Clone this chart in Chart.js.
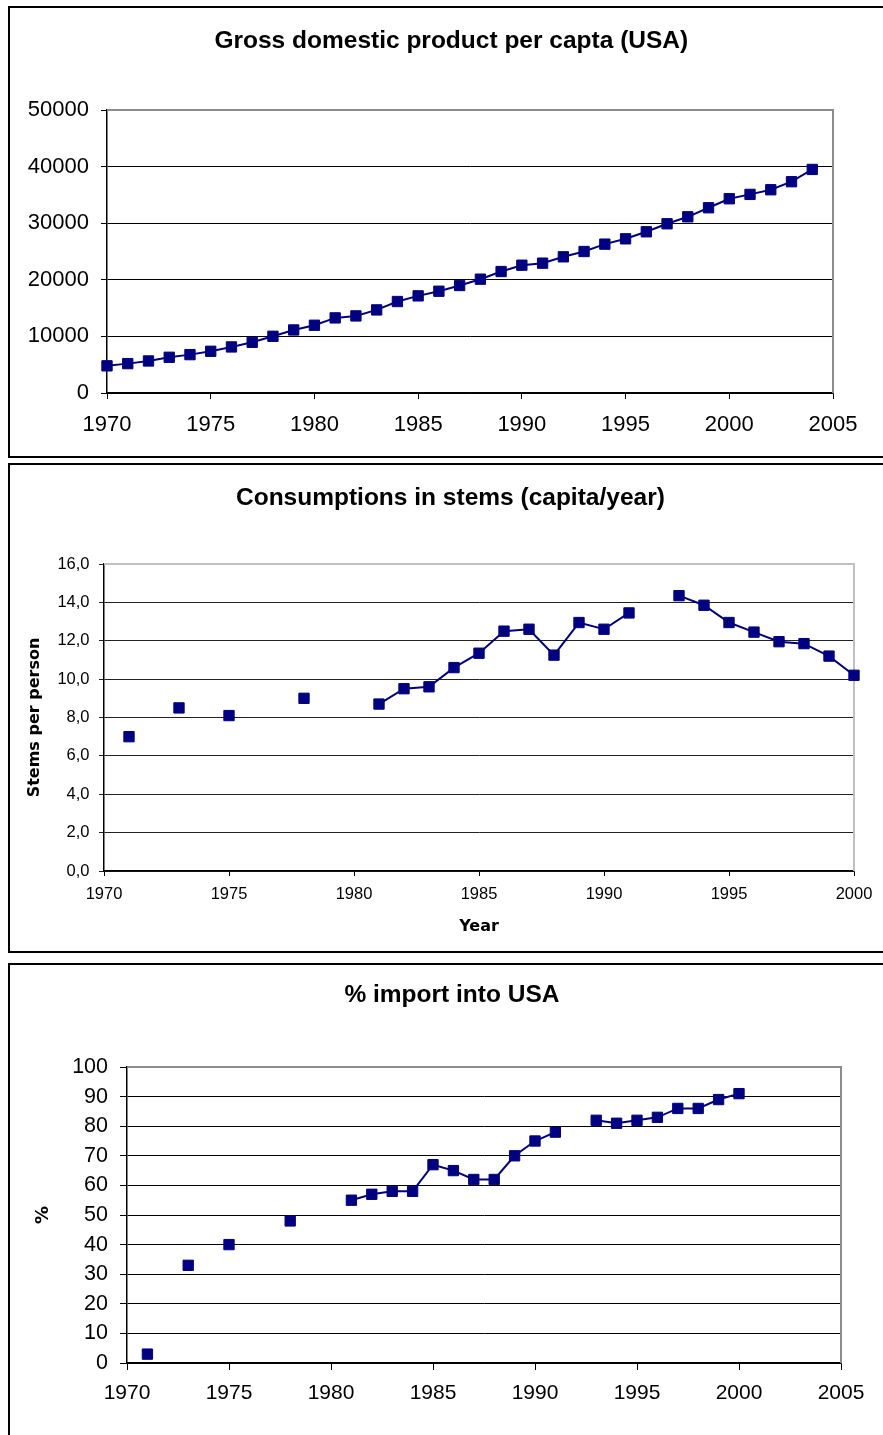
<!DOCTYPE html>
<html>
<head>
<meta charset="utf-8">
<title>USA: GDP, stems consumption, import</title>
<script src="https://cdn.jsdelivr.net/npm/chart.js@4/dist/chart.umd.min.js"></script>
<style>
    html, body { margin: 0; padding: 0; background: #fff; }
    body { position: relative; width: 883px; height: 1435px; overflow: hidden; }
    canvas { position: absolute; left: 0; }
    .box { position: absolute; border: 2px solid #000; box-sizing: border-box; pointer-events: none; }
</style>
</head>
<body>
<canvas id="gdpChart" width="883" height="460" style="top:0"></canvas>
<canvas id="stemsChart" width="883" height="495" style="top:460px"></canvas>
<canvas id="importChart" width="883" height="480" style="top:955px"></canvas>
<div class="box" style="left:8px;top:6px;width:900px;height:452px"></div>
<div class="box" style="left:8px;top:463px;width:900px;height:490px"></div>
<div class="box" style="left:8px;top:963px;width:900px;height:500px"></div>

<script>
// Data

const gdpYears = [1970, 1971, 1972, 1973, 1974, 1975, 1976, 1977, 1978, 1979,
                  1980, 1981, 1982, 1983, 1984, 1985, 1986, 1987, 1988, 1989,
                  1990, 1991, 1992, 1993, 1994, 1995, 1996, 1997, 1998, 1999,
                  2000, 2001, 2002, 2003, 2004];
const gdpValues = [4800, 5190, 5660, 6310, 6780, 7370, 8140, 8960, 10020, 11140,
                   11970, 13270, 13620, 14680, 16160, 17160, 17980, 18990, 20110, 21460,
                   22580, 22940, 24060, 25000, 26300, 27240, 28480, 29900, 31130, 32730,
                   34320, 35090, 35910, 37330, 39500];
const gdpXTicks = [1970, 1975, 1980, 1985, 1990, 1995, 2000, 2005];
const gdpYTicks = [0, 10000, 20000, 30000, 40000, 50000];

const stemsYears = [1971, 1972, 1973, 1974, 1975, 1976, 1977, 1978, 1979, 1980,
                    1981, 1982, 1983, 1984, 1985, 1986, 1987, 1988, 1989, 1990,
                    1991, 1992, 1993, 1994, 1995, 1996, 1997, 1998, 1999, 2000];
const stemsValues = [7.0, null, 8.5, null, 8.1, null, null, 9.0, null, null,
                     8.7, 9.5, 9.6, 10.6, 11.35, 12.5, 12.6, 11.25, 12.95, 12.6,
                     13.45, null, 14.35, 13.85, 12.95, 12.45, 11.95, 11.85, 11.2, 10.2];
const stemsXTicks = [1970, 1975, 1980, 1985, 1990, 1995, 2000];
const stemsYTicks = [0, 2, 4, 6, 8, 10, 12, 14, 16];

const importYears = [1971, 1972, 1973, 1974, 1975, 1976, 1977, 1978, 1979, 1980,
                     1981, 1982, 1983, 1984, 1985, 1986, 1987, 1988, 1989, 1990,
                     1991, 1992, 1993, 1994, 1995, 1996, 1997, 1998, 1999, 2000];
const importValues = [3, null, 33, null, 40, null, null, 48, null, null,
                      55, 57, 58, 58, 67, 65, 62, 62, 70, 75,
                      78, null, 82, 81, 82, 83, 86, 86, 89, 91];
const importXTicks = [1970, 1975, 1980, 1985, 1990, 1995, 2000, 2005];
const importYTicks = [0, 10, 20, 30, 40, 50, 60, 70, 80, 90, 100];

const NAVY = '#000080';
const ARIAL = "'Liberation Sans', Arial, sans-serif";
const VERDANA = "'DejaVu Sans', Verdana, sans-serif";

// grey frame on top and right of the plot area (Excel style)
const plotFrame = {
    id: 'plotFrame',
    beforeDatasetsDraw(chart, args, opts) {
        const { ctx, chartArea: a } = chart;
        ctx.save();
        ctx.strokeStyle = opts.color || '#808080';
        ctx.lineWidth = 2;
        ctx.beginPath();
        ctx.moveTo(a.left, a.top);
        ctx.lineTo(a.right, a.top);
        ctx.lineTo(a.right, a.bottom);
        ctx.stroke();
        ctx.restore();
    }
};

function buildChart(id, o) {
    const W = 883;
    const titleLH = o.titleSize * 1.2;
    // title box runs from padLeft to W - padRight, so centre it on titleX
    const padLeft = o.padLeft;
    const padRight = W - (2 * o.titleX - padLeft);
    const yAxisWidth = o.plotLeft - padLeft;
    const spacerWidth = W - padRight - o.plotRight;   // empty box right of the plot

    const yTitle = o.yTitle ? {
        display: true,
        text: o.yTitle,
        color: '#000',
        font: { family: VERDANA, size: o.yTitleSize, weight: 'bold', lineHeight: 1.2 },
        padding: { top: o.yTitleX - padLeft - o.yTitleSize * 0.6, bottom: 0 }
    } : { display: false };

    const xTitle = o.xTitle ? {
        display: true,
        text: o.xTitle,
        color: '#000',
        font: { family: VERDANA, size: o.xTitleSize, weight: 'bold', lineHeight: 1.2 },
        padding: { top: 0, bottom: o.height - o.xTitleY - o.xTitleSize * 0.6 }
    } : { display: false };

    return new Chart(document.getElementById(id), {
        type: 'line',
        data: {
            datasets: [{
                data: o.years.map((x, i) => ({ x: x, y: o.values[i] })),
                borderColor: NAVY,
                backgroundColor: NAVY,
                pointBackgroundColor: NAVY,
                pointBorderColor: NAVY,
                borderWidth: 2,
                pointStyle: 'rect',
                pointRadius: 7.3,
                pointBorderWidth: 1,
                spanGaps: false,
                tension: 0,
                clip: false
            }]
        },
        options: {
            responsive: false,
            animation: false,
            devicePixelRatio: 1,
            layout: { padding: { left: padLeft, right: padRight, top: 0, bottom: 0 } },
            plugins: {
                legend: { display: false },
                tooltip: { enabled: false },
                title: {
                    display: true,
                    text: o.title,
                    color: '#000',
                    font: { family: ARIAL, size: o.titleSize, weight: 'bold', lineHeight: 1.2 },
                    padding: { top: o.titleY - titleLH / 2, bottom: o.plotTop - o.titleY - titleLH / 2 }
                },
                plotFrame: { color: o.frameColor }
            },
            scales: {
                x: {
                    type: 'linear',
                    min: o.xTicks[0],
                    max: o.xTicks[o.xTicks.length - 1],
                    afterBuildTicks: axis => { axis.ticks = o.xTicks.map(v => ({ value: v })); },
                    afterFit: axis => { axis.height = o.height - o.plotBottom; },
                    grid: { drawOnChartArea: false, drawTicks: true, tickLength: o.tickLen, color: '#000', lineWidth: 1 },
                    border: { display: true, color: '#000', width: 1.5 },
                    ticks: {
                        color: '#000',
                        font: { family: ARIAL, size: o.xFont, lineHeight: 1.2 },
                        padding: o.xLabelY - o.plotBottom - o.tickLen - o.xFont * 0.6,
                        maxRotation: 0,
                        autoSkip: false,
                        callback: v => String(v)
                    },
                    title: xTitle
                },
                y: {
                    min: o.yTicks[0],
                    max: o.yTicks[o.yTicks.length - 1],
                    afterBuildTicks: axis => { axis.ticks = o.yTicks.map(v => ({ value: v })); },
                    afterFit: axis => { axis.width = yAxisWidth; },
                    grid: { drawTicks: true, tickLength: o.tickLen, color: o.gridColor, lineWidth: 1 },
                    border: { display: true, color: '#000', width: 1.5 },
                    ticks: {
                        color: '#000',
                        font: { family: ARIAL, size: o.yFont },
                        padding: o.plotLeft - o.yLabelRight - o.tickLen,
                        autoSkip: false,
                        callback: o.yFormat
                    },
                    title: yTitle
                },
                spacer: {
                    type: 'linear',
                    position: 'right',
                    display: spacerWidth > 0,
                    grid: { display: false },
                    border: { display: false },
                    ticks: { display: false },
                    afterFit: axis => { axis.width = Math.max(spacerWidth, 0); }
                }
            }
        },
        plugins: [plotFrame]
    });
}

document.addEventListener('DOMContentLoaded', () => {
    Chart.defaults.font.family = ARIAL;

    buildChart('gdpChart', {
        years: gdpYears, values: gdpValues, xTicks: gdpXTicks, yTicks: gdpYTicks,
        title: 'Gross domestic product per capta (USA)',
        height: 460, titleSize: 24.5, titleX: 451.3, titleY: 41, padLeft: 16,
        plotLeft: 107, plotRight: 833, plotTop: 110, plotBottom: 393,
        tickLen: 6, xFont: 22, yFont: 22, xLabelY: 425, yLabelRight: 89,
        gridColor: '#000', frameColor: '#8c8c8c',
        yFormat: v => String(v)
    });

    buildChart('stemsChart', {
        years: stemsYears, values: stemsValues, xTicks: stemsXTicks, yTicks: stemsYTicks,
        title: 'Consumptions in stems (capita/year)',
        height: 495, titleSize: 24.5, titleX: 450.4, titleY: 38.3, padLeft: 16,
        plotLeft: 104, plotRight: 854, plotTop: 104, plotBottom: 411,
        tickLen: 5, xFont: 16.5, yFont: 16.5, xLabelY: 434, yLabelRight: 89.5,
        gridColor: '#222', frameColor: '#c0c0c0',
        yTitle: 'Stems per person', yTitleSize: 16, yTitleX: 34.7,
        xTitle: 'Year', xTitleSize: 16, xTitleY: 466.7,
        yFormat: v => v.toFixed(1).replace('.', ',')
    });

    buildChart('importChart', {
        years: importYears, values: importValues, xTicks: importXTicks, yTicks: importYTicks,
        title: '% import into USA',
        height: 480, titleSize: 24.5, titleX: 451.9, titleY: 40, padLeft: 16,
        plotLeft: 127, plotRight: 841, plotTop: 112, plotBottom: 408,
        tickLen: 7, xFont: 21, yFont: 21.5, xLabelY: 438, yLabelRight: 108,
        gridColor: '#000', frameColor: '#8c8c8c',
        yTitle: '%', yTitleSize: 18, yTitleX: 43.6,
        yFormat: v => String(v)
    });
});
</script>
</body>
</html>
